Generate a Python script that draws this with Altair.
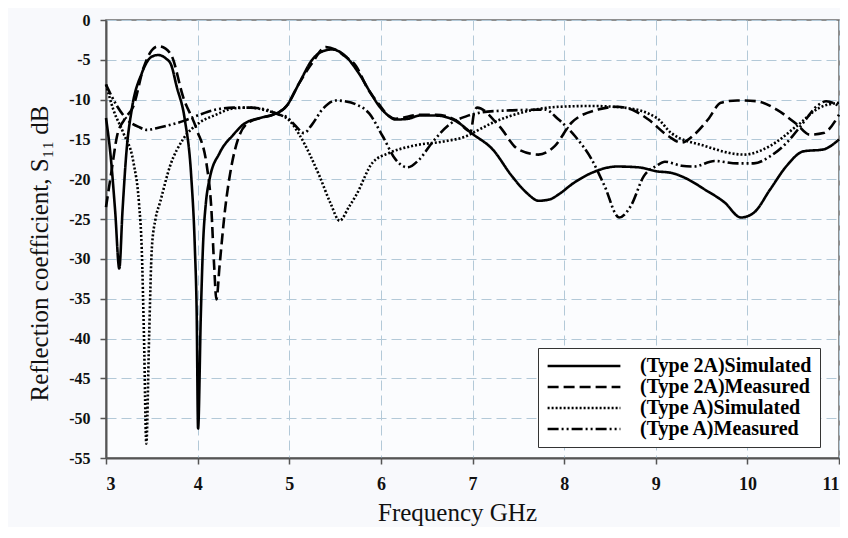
import altair as alt
import pandas as pd

# ---- data ----
sim2a_f = [3.0, 3.05, 3.1, 3.145, 3.18, 3.225, 3.28, 3.39, 3.5, 3.57, 3.65, 3.71, 3.77, 3.86, 3.93, 3.97, 3.99, 4.005,
           4.035, 4.06, 4.09, 4.13, 4.24, 4.39, 4.5, 4.68, 4.82, 4.97, 5.11, 5.25, 5.35, 5.47, 5.6, 5.76, 5.88, 5.98,
           6.08, 6.16, 6.3, 6.42, 6.6, 6.82, 7.0, 7.22, 7.43, 7.6, 7.72, 7.85, 7.94, 8.1, 8.3, 8.58, 8.81, 9.01, 9.17,
           9.35, 9.53, 9.75, 9.93, 10.07, 10.25, 10.43, 10.61, 10.83, 11.0]
sim2a_db = [-12.3, -17.0, -24.0, -31.2, -24.0, -16.3, -11.3, -6.7, -4.6, -4.4, -4.8, -5.6, -8.3, -12.5, -19.6, -28.7,
            -37.0, -51.3, -37.0, -28.0, -23.0, -20.0, -16.7, -14.4, -13.1, -12.3, -11.9, -10.8, -7.9, -5.0, -4.0,
            -3.7, -4.4, -6.7, -9.0, -10.8, -12.0, -12.5, -12.4, -12.0, -12.0, -12.7, -14.3, -16.25, -19.6, -21.8,
            -22.7, -22.5, -21.9, -20.5, -19.2, -18.4, -18.5, -19.0, -19.2, -20.0, -21.25, -22.9, -24.8, -24.2,
            -21.25, -18.3, -16.5, -16.25, -15.0]

meas2a_f = [3.0, 3.06, 3.12, 3.2, 3.3, 3.41, 3.5, 3.57, 3.65, 3.72, 3.84, 3.99, 4.1, 4.15, 4.18, 4.205, 4.24, 4.3,
            4.37, 4.44, 4.53, 4.68, 4.82, 4.97, 5.11, 5.25, 5.4, 5.5, 5.6, 5.73, 5.85, 5.98, 6.08, 6.16, 6.42, 6.6,
            6.82, 6.98, 7.02, 7.05, 7.29, 7.5, 7.72, 7.9, 8.08, 8.37, 8.58, 8.75, 8.92, 9.14, 9.28, 9.42, 9.57, 9.71,
            9.89, 10.1, 10.32, 10.54, 10.68, 10.83, 11.0]
meas2a_db = [-23.5, -19.0, -14.6, -12.5, -10.8, -6.0, -3.8, -3.3, -3.6, -4.6, -9.6, -13.75, -18.3, -23.75, -30.8,
             -35.1, -30.8, -23.75, -18.3, -15.0, -13.1, -12.3, -11.9, -10.8, -7.9, -5.4, -3.4, -3.7, -4.5, -5.8,
             -8.5, -10.6, -12.0, -12.4, -11.9, -11.9, -12.6, -14.0, -11.5, -11.0, -13.3, -16.25, -16.9, -15.8,
             -12.9, -11.25, -10.9, -11.3, -12.5, -14.6, -15.4, -14.4, -12.5, -10.4, -10.1, -10.2, -11.25, -13.1,
             -14.4, -14.2, -11.9]

simA_f = [3.0, 3.08, 3.19, 3.3, 3.36, 3.39, 3.415, 3.44, 3.47, 3.5, 3.54, 3.59, 3.7, 3.84, 4.02, 4.2, 4.39, 4.57,
          4.79, 4.9, 5.0, 5.11, 5.33, 5.45, 5.55, 5.65, 5.73, 5.91, 6.09, 6.35, 6.71, 6.93, 7.0, 7.22, 7.58, 7.94,
          8.3, 8.65, 9.01, 9.17, 9.53, 9.96, 10.25, 10.54, 10.79, 11.0]
simA_db = [-8.1, -11.25, -14.2, -17.9, -23.0, -28.7, -40.0, -53.2, -40.0, -28.7, -25.0, -22.9, -18.3, -15.0, -12.9,
           -11.9, -11.1, -11.0, -11.5, -11.9, -12.6, -14.4, -19.6, -23.0, -25.2, -23.5, -22.0, -17.9, -16.7, -15.8,
           -15.2, -14.6, -14.2, -12.9, -11.5, -10.9, -10.8, -11.0, -12.3, -14.2, -15.8, -16.9, -15.8, -13.3,
           -11.0, -10.4]

measA_f = [3.0, 3.12, 3.23, 3.37, 3.44, 3.55, 3.66, 3.84, 4.02, 4.2, 4.39, 4.57, 4.75, 4.89, 4.96, 5.07, 5.16, 5.25,
           5.36, 5.51, 5.6, 5.73, 5.87, 6.02, 6.16, 6.29, 6.42, 6.56, 6.75, 6.93, 7.1, 7.3, 7.55, 7.79, 7.94, 8.12,
           8.3, 8.44, 8.6, 8.73, 8.87, 9.01, 9.1, 9.28, 9.42, 9.64, 9.89, 10.07, 10.25, 10.43, 10.61, 10.76,
           10.86, 11.0]
measA_db = [-8.1, -10.8, -12.5, -13.5, -13.8, -13.6, -13.3, -12.7, -11.9, -11.25, -11.0, -11.0, -11.25, -11.9,
            -12.1, -13.3, -14.2, -13.1, -11.25, -10.1, -10.2, -10.6, -11.7, -14.6, -17.5, -18.5, -17.5, -15.4,
            -13.1, -12.1, -11.6, -11.4, -11.3, -11.25, -12.5, -14.6, -17.5, -20.8, -24.8, -23.3, -19.6, -18.3,
            -17.8, -18.3, -18.4, -17.7, -18.0, -18.0, -17.1, -15.4, -12.9, -10.8, -10.2, -10.8]

series_names = ["(Type 2A)Simulated", "(Type 2A)Measured", "(Type A)Simulated", "(Type A)Measured"]
series_f = [sim2a_f, meas2a_f, simA_f, measA_f]
series_db = [sim2a_db, meas2a_db, simA_db, measA_db]
y_ticks = list(range(-55, 1, 5))
x_ticks = list(range(3, 12))

rows = []
for name, fs, ds in zip(series_names, series_f, series_db):
    for i, (f, d) in enumerate(zip(fs, ds)):
        rows.append({"series": name, "freq": f, "db": d, "order": i})
df = pd.DataFrame(rows)

FONT = "Liberation Serif"

lines = alt.Chart(df).mark_line(interpolate="monotone", color="black").encode(
    x=alt.X("freq:Q", scale=alt.Scale(domain=[3, 11], nice=False, zero=False),
            axis=alt.Axis(values=x_ticks, title="Frequency GHz", titleX=351, titleY=54,
                          titleBaseline="middle", titleAlign="center", labelPadding=11,
                          labelFontSize=18, titleFontSize=25, titleFontWeight="normal")),
    y=alt.Y("db:Q", scale=alt.Scale(domain=[-55, 0], nice=False, zero=False),
            axis=alt.Axis(values=y_ticks, title="Reflection coefficient, S\u2081\u2081 dB",
                          labelExpr="'' + datum.value", titleAngle=-90, titleX=-67, titleY=233,
                          titleAlign="center", titleBaseline="middle", labelPadding=10,
                          labelFontSize=16, titleFontSize=25, titleFontWeight="normal")),
    strokeDash=alt.StrokeDash("series:N", sort=series_names,
                              scale=alt.Scale(domain=series_names,
                                              range=[[1, 0], [11, 5], [2, 2], [11, 3, 2, 3, 2, 3]]),
                              legend=alt.Legend(title=None, orient="none", legendX=432, legendY=328,
                                                symbolType="stroke", symbolSize=5300,
                                                symbolStrokeWidth=2.5, symbolStrokeColor="black",
                                                labelFont=FONT, labelFontWeight="bold", labelFontSize=20,
                                                labelColor="black", labelOffset=18, rowPadding=1,
                                                clipHeight=20, padding=8, strokeColor="#333",
                                                fillColor="white", labelLimit=300)),
    strokeWidth=alt.StrokeWidth("series:N", sort=series_names,
                                scale=alt.Scale(domain=series_names, range=[2.6, 2.6, 2.2, 2.2]),
                                legend=None),
    order="order:Q",
)

chart = lines.properties(
    width=733, height=438,
    autosize=alt.AutoSizeParams(type="none"),
    padding={"left": 98, "top": 12, "right": 1, "bottom": 69},
    background="#f8f9fc",
).configure_view(
    stroke="#6b6b6b", strokeWidth=1.5, fill="#fbfcfe"
).configure_axis(
    labelFont=FONT, labelFontWeight="bold", labelColor="#111",
    titleFont=FONT, titleColor="#111",
    tickSize=6, tickColor="#555", tickWidth=1.5,
    domainColor="#555", domainWidth=2,
    gridColor="#b3c9d8", gridDash=[10, 5], gridWidth=1,
)

chart.save("out.html", embed_options={"renderer": "svg", "actions": False})
